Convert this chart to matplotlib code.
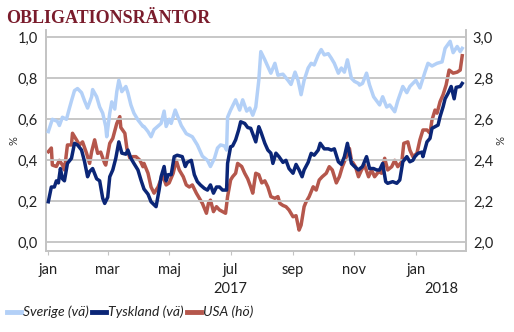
import matplotlib
matplotlib.use("Agg")
import matplotlib.pyplot as plt
import numpy as np
import pandas as pd

START = pd.Timestamp("2017-01-01")

# days after 2017-01-01, value in %
sverige_days = [0, 4, 9, 11, 14, 18, 21, 23, 26, 29, 33, 36, 39, 43, 44, 48, 51, 54, 57, 58,
                61, 63, 66, 68, 70, 73, 77, 79, 82, 85, 89, 94, 95, 99, 102, 105, 112, 115, 117,
                120, 122, 126, 128, 132, 137, 143, 148, 153, 158, 161, 165, 168, 171, 175, 177,
                178, 181, 186, 190, 193, 197, 200, 203, 206, 209, 211, 215, 218, 221, 225, 228,
                233, 238, 241, 245, 248, 251, 254, 258, 261, 264, 268, 271, 274, 278, 281, 284,
                288, 291, 294, 297, 301, 304, 308, 309, 312, 316, 319, 323, 326, 329, 332, 336,
                339, 344, 347, 352, 356, 359, 365, 369, 374, 377, 381, 386, 391, 394, 399, 402,
                406, 409, 411]
sverige = [0.54, 0.60, 0.59, 0.57, 0.61, 0.60, 0.655, 0.69, 0.74, 0.75, 0.73, 0.69, 0.655, 0.71,
           0.745, 0.71, 0.66, 0.63, 0.565, 0.515, 0.63, 0.685, 0.65, 0.735, 0.79, 0.735, 0.76,
           0.73, 0.67, 0.63, 0.597, 0.565, 0.565, 0.54, 0.515, 0.55, 0.58, 0.64, 0.565, 0.60,
           0.58, 0.645, 0.62, 0.57, 0.53, 0.515, 0.475, 0.42, 0.40, 0.37, 0.41, 0.46, 0.475,
           0.47, 0.45, 0.61, 0.645, 0.695, 0.645, 0.695, 0.64, 0.655, 0.62, 0.66, 0.79, 0.93,
           0.89, 0.857, 0.825, 0.873, 0.815, 0.82, 0.79, 0.77, 0.83, 0.79, 0.72, 0.79, 0.85,
           0.873, 0.865, 0.914, 0.94, 0.914, 0.92, 0.898, 0.873, 0.825, 0.85, 0.83, 0.89, 0.80,
           0.785, 0.775, 0.767, 0.775, 0.825, 0.767, 0.71, 0.69, 0.67, 0.71, 0.66, 0.67, 0.637,
           0.69, 0.76, 0.73, 0.76, 0.79, 0.753, 0.83, 0.873, 0.86, 0.873, 0.88, 0.946, 0.98,
           0.925, 0.955, 0.93, 0.946]

tyskland_days = [0, 3, 6, 8, 10, 12, 14, 16, 19, 23, 26, 29, 33, 36, 39, 41, 44, 48, 51, 54, 56,
                 59, 61, 64, 67, 70, 73, 77, 79, 82, 85, 89, 92, 95, 99, 102, 107, 110, 112, 115,
                 117, 119, 122, 125, 128, 133, 136, 138, 142, 145, 148, 151, 155, 158, 161, 164,
                 167, 170, 173, 177, 178, 181, 183, 186, 189, 191, 195, 198, 201, 203, 206, 209,
                 211, 215, 218, 221, 223, 226, 229, 233, 236, 239, 243, 246, 249, 252, 254, 258,
                 261, 264, 268, 270, 274, 278, 281, 284, 288, 291, 294, 297, 301, 304, 308, 312,
                 316, 319, 323, 326, 329, 332, 335, 337, 342, 346, 349, 352, 356, 359, 362, 364,
                 367, 371, 372, 376, 379, 381, 384, 387, 389, 392, 394, 397, 400, 403, 405, 409,
                 411]
tyskland = [0.198, 0.27, 0.27, 0.30, 0.29, 0.36, 0.31, 0.30, 0.385, 0.41, 0.483, 0.475, 0.45,
            0.393, 0.32, 0.345, 0.36, 0.31, 0.30, 0.215, 0.19, 0.22, 0.32, 0.353, 0.41, 0.49,
            0.435, 0.43, 0.45, 0.41, 0.385, 0.353, 0.304, 0.26, 0.235, 0.198, 0.174, 0.255, 0.32,
            0.37, 0.30, 0.33, 0.33, 0.418, 0.425, 0.418, 0.37, 0.39, 0.40, 0.33, 0.296, 0.28,
            0.263, 0.255, 0.28, 0.24, 0.27, 0.27, 0.255, 0.255, 0.385, 0.466, 0.47, 0.50, 0.548,
            0.588, 0.58, 0.56, 0.556, 0.53, 0.49, 0.564, 0.54, 0.483, 0.45, 0.435, 0.385, 0.435,
            0.418, 0.39, 0.40, 0.36, 0.337, 0.38, 0.353, 0.32, 0.353, 0.39, 0.434, 0.425, 0.45,
            0.483, 0.456, 0.456, 0.45, 0.456, 0.393, 0.38, 0.418, 0.483, 0.385, 0.37, 0.353,
            0.37, 0.418, 0.36, 0.36, 0.353, 0.353, 0.385, 0.296, 0.288, 0.296, 0.288, 0.304,
            0.393, 0.418, 0.393, 0.40, 0.418, 0.434, 0.44, 0.418, 0.49, 0.507, 0.556, 0.564,
            0.572, 0.613, 0.661, 0.70, 0.727, 0.76, 0.70, 0.756, 0.76, 0.775]

usa_days = [0, 3, 4, 8, 11, 14, 16, 19, 23, 24, 28, 31, 34, 38, 41, 43, 46, 49, 52, 56, 57, 61,
            64, 68, 71, 72, 76, 78, 81, 84, 87, 91, 94, 95, 99, 102, 105, 109, 112, 114, 117,
            120, 124, 127, 130, 134, 137, 140, 143, 147, 150, 153, 157, 159, 161, 164, 167, 170,
            173, 176, 178, 181, 183, 186, 188, 192, 195, 198, 201, 203, 206, 209, 212, 215, 218,
            221, 225, 228, 230, 233, 236, 239, 243, 246, 249, 251, 254, 256, 259, 263, 266, 269,
            272, 276, 279, 282, 286, 289, 292, 296, 299, 301, 305, 308, 311, 314, 318, 321, 324,
            328, 331, 334, 337, 341, 344, 347, 351, 353, 357, 359, 362, 366, 369, 372, 376, 379,
            381, 384, 386, 389, 392, 395, 398, 402, 406, 409, 411]
usa = [2.442, 2.46, 2.377, 2.37, 2.40, 2.377, 2.353, 2.475, 2.475, 2.532, 2.50, 2.475, 2.49,
       2.434, 2.385, 2.442, 2.50, 2.434, 2.44, 2.385, 2.377, 2.483, 2.507, 2.58, 2.613, 2.56,
       2.532, 2.458, 2.41, 2.418, 2.418, 2.40, 2.369, 2.385, 2.337, 2.27, 2.24, 2.27, 2.31,
       2.32, 2.28, 2.29, 2.337, 2.40, 2.353, 2.32, 2.28, 2.27, 2.28, 2.24, 2.215, 2.19, 2.142,
       2.19, 2.206, 2.15, 2.174, 2.158, 2.15, 2.142, 2.223, 2.304, 2.32, 2.337, 2.385, 2.37,
       2.337, 2.31, 2.27, 2.24, 2.337, 2.33, 2.29, 2.30, 2.27, 2.223, 2.215, 2.223, 2.19, 2.18,
       2.174, 2.158, 2.125, 2.13, 2.06, 2.084, 2.174, 2.198, 2.223, 2.271, 2.255, 2.304, 2.32,
       2.337, 2.369, 2.353, 2.29, 2.32, 2.369, 2.418, 2.458, 2.40, 2.369, 2.32, 2.353, 2.377,
       2.32, 2.353, 2.32, 2.345, 2.337, 2.41, 2.353, 2.369, 2.40, 2.369, 2.393, 2.483, 2.49,
       2.45, 2.418, 2.434, 2.50, 2.548, 2.548, 2.532, 2.597, 2.645, 2.63, 2.686, 2.72, 2.767,
       2.84, 2.825, 2.83, 2.84, 2.91]

month_ticks = ["2017-01-01", "2017-03-01", "2017-05-01", "2017-07-01", "2017-09-01",
               "2017-11-01", "2018-01-01"]
month_labels = ["jan", "mar", "maj", "jul", "sep", "nov", "jan"]

C_SE, C_DE, C_US = "#b3d0f7", "#0b2677", "#b5574c"
GRID = "#c3c3c3"
INK = "#222222"


def dates(days):
    return START + pd.to_timedelta(days, unit="D")


def comma(v):
    return f"{v:.1f}".replace(".", ",")


plt.rcParams["font.family"] = ["Lato", "DejaVu Sans"]
fig = plt.figure(figsize=(5.14, 3.32), dpi=100)
ax = fig.add_axes([0.0895, 0.244, 0.817, 0.666])
ax2 = ax.twinx()

ax.plot(dates(sverige_days), sverige, color=C_SE, lw=2.5, zorder=3)
ax.plot(dates(tyskland_days), tyskland, color=C_DE, lw=2.5, zorder=5)
ax2.plot(dates(usa_days), usa, color=C_US, lw=2.5, zorder=4)
# left-axis series drawn above the right-axis one
ax.set_zorder(ax2.get_zorder() + 1)
ax.patch.set_visible(False)

ylo, yhi = -0.042, 1.036
ax.set_ylim(ylo, yhi)
ax2.set_ylim(ylo + 2, yhi + 2)
ax.set_xlim(START - pd.Timedelta(days=2.3), START + pd.Timedelta(days=414.7))

left_ticks = np.arange(0, 1.01, 0.2)
ax.set_yticks(left_ticks)
ax.set_yticklabels([comma(v) for v in left_ticks])
ax2.set_yticks(left_ticks + 2)
ax2.set_yticklabels([comma(v) for v in left_ticks + 2])
for v in left_ticks:
    ax.axhline(v, color=GRID, lw=1.3, zorder=1)

ax.set_xticks(pd.to_datetime(month_ticks))
ax.set_xticklabels(month_labels)
ax.tick_params(axis="x", length=3, color=GRID, labelsize=10.5, pad=6, labelcolor=INK)
ax.tick_params(axis="y", length=0, labelsize=10.5, pad=6, labelcolor=INK)
ax2.tick_params(axis="y", length=0, labelsize=10.5, pad=5, labelcolor=INK)

for a in (ax, ax2):
    a.spines["top"].set_visible(False)
    for s in ("left", "right", "bottom"):
        a.spines[s].set_color(GRID)
        a.spines[s].set_linewidth(1.2)

tr = ax.get_xaxis_transform()
ax.text(pd.Timestamp("2017-07-01"), -0.14, "2017", transform=tr, ha="center", va="top",
        fontsize=10.5, color=INK)
ax.text(pd.Timestamp("2018-01-26"), -0.14, "2018", transform=tr, ha="center", va="top",
        fontsize=10.5, color=INK)

fig.text(0.027, 0.578, "%", rotation=90, ha="center", va="center", fontsize=8, color="#333333")
fig.text(0.969, 0.578, "%", rotation=270, ha="center", va="center", fontsize=8, color="#333333")

fig.text(0.012, 0.945, "OBLIGATIONSRÄNTOR", fontsize=13, fontweight="bold",
         family="Liberation Serif", color="#7a1c2c", ha="left", va="center")

handles = [plt.Line2D([], [], color=c, lw=3.5) for c in (C_SE, C_DE, C_US)]
fig.legend(handles, ["Sverige (vä)", "Tyskland (vä)", "USA (hö)"], loc="center",
           bbox_to_anchor=(0.253, 0.06), ncol=3, frameon=False, handlelength=1.0,
           handletextpad=0.15, columnspacing=0.25, prop={"style": "italic", "size": 10},
           labelcolor=INK)

fig.savefig("out.png", dpi=100)
